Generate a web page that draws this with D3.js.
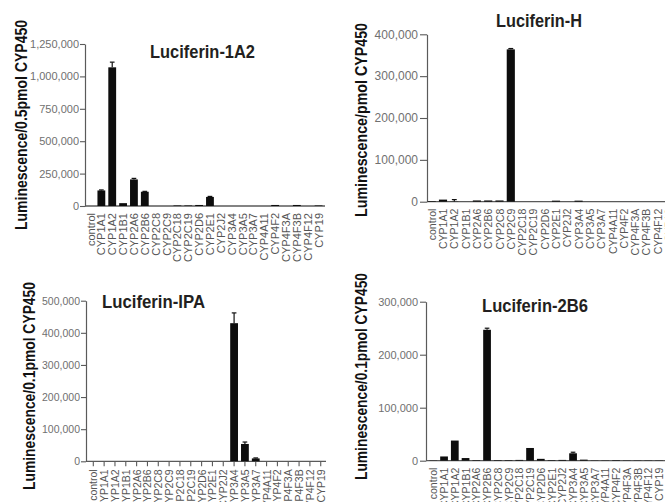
<!DOCTYPE html>
<html>
<head>
<meta charset="utf-8">
<script src="https://cdn.jsdelivr.net/npm/d3@7"></script>
<style>
  body { margin: 0; background: #fff; }
  svg { display: block; }
</style>
</head>
<body>
<svg id="fig" width="665" height="502"></svg>
<script>
// CYP450 isoforms screened with each luciferin substrate
const categories = ["control", "CYP1A1", "CYP1A2", "CYP1B1", "CYP2A6", "CYP2B6", "CYP2C8", "CYP2C9",
  "CYP2C18", "CYP2C19", "CYP2D6", "CYP2E1", "CYP2J2", "CYP3A4", "CYP3A5", "CYP3A7",
  "CYP4A11", "CYP4F2", "CYP4F3A", "CYP4F3B", "CYP4F12", "CYP19"];

// Luminescence per isoform (mean) and upper end of the error bar
const values1A2 = [0, 120000, 1070000, 22000, 205000, 110000, 0, 0, 4000, 4000, 8000, 70000,
  0, 0, 0, 0, 0, 8000, 0, 8000, 0, 4000];
const errors1A2 = [0, 124000, 1110000, 0, 213000, 113000, 0, 0, 0, 0, 0, 74000,
  0, 0, 0, 0, 0, 0, 0, 0, 0, 0];

const valuesH = [1500, 5000, 500, 0, 3000, 3000, 3000, 364000, 0, 0, 0, 2500,
  0, 2500, 0, 0, 0, 0, 0, 0, 0, 0];
const errorsH = [0, 0, 5000, 0, 0, 0, 0, 366000, 0, 0, 0, 0,
  0, 0, 0, 0, 0, 0, 0, 0, 0, 0];

const valuesIPA = [0, 0, 0, 0, 0, 0, 0, 0, 0, 0, 0, 0,
  0, 430000, 54000, 9000, 0, 0, 0, 0, 0, 0];
const errorsIPA = [0, 0, 0, 0, 0, 0, 0, 0, 0, 0, 0, 0,
  0, 462000, 60000, 10500, 0, 0, 0, 0, 0, 0];

const values2B6 = [500, 8000, 38000, 5000, 1000, 247000, 1000, 1000, 1500, 24000, 3500, 1000,
  1500, 14000, 2000, 500, 500, 1000, 500, 500, 500, 500];
const errors2B6 = [0, 0, 0, 0, 0, 250000, 0, 0, 0, 0, 0, 0,
  0, 16000, 0, 0, 0, 0, 0, 0, 0, 0];

// Axis ticks
const ticks1A2 = [0, 250000, 500000, 750000, 1000000, 1250000];
const ticksH = [0, 100000, 200000, 300000, 400000];
const ticksIPA = [0, 100000, 200000, 300000, 400000, 500000];
const ticks2B6 = [0, 100000, 200000, 300000];

// Titles and axis labels
const titles = ["Luciferin-1A2", "Luciferin-H", "Luciferin-IPA", "Luciferin-2B6"];
const yLabels = ["Luminescence/0.5pmol CYP450", "Luminescence/pmol CYP450",
  "Luminescence/0.1pmol CYP450", "Luminescence/0.1pmol CYP450"];

const series = [
  { values: values1A2, errors: errors1A2, ticks: ticks1A2 },
  { values: valuesH, errors: errorsH, ticks: ticksH },
  { values: valuesIPA, errors: errorsIPA, ticks: ticksIPA },
  { values: values2B6, errors: errors2B6, ticks: ticks2B6 }
];

// Panel geometry
const layout = [
  { ax: 85, base: 206, top: 44, c0: 90.5, step: 10.86, axEnd: 325, tickFont: 11, tickSize: 5, tickPad: 1,
    catFont: 11, catGap: 7, xTicks: false, clipY: null,
    title: { x: 150, y: 57.5, len: 105 }, ylab: { x: 21, cy: 125, len: 210 } },
  { ax: 427, base: 201.7, top: 34.3, c0: 431.7, step: 11.3, axEnd: 665, tickFont: 12, tickSize: 7, tickPad: 2,
    catFont: 10.5, catGap: 7, xTicks: false, clipY: 255,
    title: { x: 496, y: 27, len: 86 }, ylab: { x: 361, cy: 120, len: 194 } },
  { ax: 86, base: 461.3, top: 300.7, c0: 93.3, step: 10.83, axEnd: 326, tickFont: 10.5, tickSize: 5, tickPad: 1,
    catFont: 10.5, catGap: 8, xTicks: true, clipY: null,
    title: { x: 102, y: 307.5, len: 103 }, ylab: { x: 29, cy: 386, len: 208 } },
  { ax: 426, base: 460.7, top: 301.7, c0: 433.3, step: 10.75, axEnd: 665, tickFont: 11, tickSize: 6, tickPad: 2,
    catFont: 10.5, catGap: 7, xTicks: false, clipY: null,
    title: { x: 482, y: 311.7, len: 106 }, ylab: { x: 361.5, cy: 376.5, len: 207 } }
];

const svg = d3.select("#fig");
const sans = "'Liberation Sans', Arial, Helvetica, sans-serif";
const narrow = "'Liberation Sans Narrow', 'Liberation Sans', Arial, sans-serif";
const fmt = d3.format(",");
const axisColor = "#5a5a5a";

svg.append("defs").append("clipPath").attr("id", "clipH")
  .append("rect").attr("x", 330).attr("y", 0).attr("width", 335).attr("height", 255);

layout.forEach((L, i) => {
  const s = series[i];
  const g = svg.append("g");
  const pad = 0.28;
  const x = d3.scaleBand()
    .domain(categories)
    .range([L.c0 - L.step / 2, L.c0 - L.step / 2 + categories.length * L.step])
    .paddingInner(pad)
    .paddingOuter(pad / 2);
  const yMax = s.ticks[s.ticks.length - 1];
  const y = d3.scaleLinear().domain([0, yMax]).range([L.base, L.top]);

  // y axis
  const yAxis = g.append("g")
    .attr("transform", `translate(${L.ax},0)`)
    .call(d3.axisLeft(y).tickValues(s.ticks).tickFormat(fmt)
      .tickSize(L.tickSize).tickSizeOuter(0).tickPadding(L.tickPad));
  yAxis.select(".domain").attr("stroke", axisColor).attr("stroke-width", 1.2);
  yAxis.selectAll(".tick line").attr("stroke", axisColor).attr("stroke-width", 1.1);
  yAxis.selectAll(".tick text")
    .attr("fill", "#707070")
    .style("font-family", sans)
    .style("font-size", L.tickFont + "px");

  // x axis baseline
  g.append("line")
    .attr("x1", L.ax).attr("x2", L.axEnd)
    .attr("y1", y(0)).attr("y2", y(0))
    .attr("stroke", axisColor).attr("stroke-width", 1.3);

  if (L.xTicks) {
    g.selectAll("line.xt").data(categories).join("line")
      .attr("class", "xt")
      .attr("x1", d => x(d) + x.bandwidth() / 2)
      .attr("x2", d => x(d) + x.bandwidth() / 2)
      .attr("y1", y(0)).attr("y2", y(0) + 5)
      .attr("stroke", axisColor).attr("stroke-width", 1.1);
  }

  // bars
  const rows = categories.map((c, k) => ({ c, v: s.values[k], e: s.errors[k] }));
  g.selectAll("rect.bar").data(rows.filter(d => d.v > 0)).join("rect")
    .attr("class", "bar")
    .attr("x", d => x(d.c))
    .attr("width", x.bandwidth())
    .attr("y", d => y(d.v))
    .attr("height", d => y(0) - y(d.v))
    .attr("fill", "#0d0d0d");

  // error bars
  const errRows = rows.filter(d => d.e > d.v);
  const capW = x.bandwidth() * 0.6;
  g.selectAll("line.err").data(errRows).join("line")
    .attr("class", "err")
    .attr("x1", d => x(d.c) + x.bandwidth() / 2)
    .attr("x2", d => x(d.c) + x.bandwidth() / 2)
    .attr("y1", d => y(d.v)).attr("y2", d => y(d.e))
    .attr("stroke", "#111").attr("stroke-width", 1.2);
  g.selectAll("line.cap").data(errRows).join("line")
    .attr("class", "cap")
    .attr("x1", d => x(d.c) + x.bandwidth() / 2 - capW / 2)
    .attr("x2", d => x(d.c) + x.bandwidth() / 2 + capW / 2)
    .attr("y1", d => y(d.e)).attr("y2", d => y(d.e))
    .attr("stroke", "#111").attr("stroke-width", 1.2);

  // category labels, rotated
  const labels = g.append("g");
  if (L.clipY) labels.attr("clip-path", "url(#clipH)");
  labels.selectAll("text").data(categories).join("text")
    .attr("transform", d => `translate(${x(d) + x.bandwidth() / 2},${y(0) + L.catGap}) rotate(-90)`)
    .attr("text-anchor", "end")
    .attr("dominant-baseline", "central")
    .attr("fill", "#555")
    .style("font-family", sans)
    .style("font-size", L.catFont + "px")
    .text(d => d);

  // title
  g.append("text")
    .attr("x", L.title.x).attr("y", L.title.y)
    .attr("textLength", L.title.len)
    .attr("lengthAdjust", "spacingAndGlyphs")
    .attr("fill", "#231f20")
    .style("font-family", narrow)
    .style("font-weight", "bold")
    .style("font-size", "19px")
    .text(titles[i]);

  // y axis label
  g.append("text")
    .attr("transform", `translate(${L.ylab.x},${L.ylab.cy}) rotate(-90)`)
    .attr("text-anchor", "middle")
    .attr("dominant-baseline", "central")
    .attr("textLength", L.ylab.len)
    .attr("lengthAdjust", "spacingAndGlyphs")
    .attr("fill", "#111")
    .style("font-family", narrow)
    .style("font-weight", "bold")
    .style("font-size", "17px")
    .text(yLabels[i]);
});
</script>
</body>
</html>
